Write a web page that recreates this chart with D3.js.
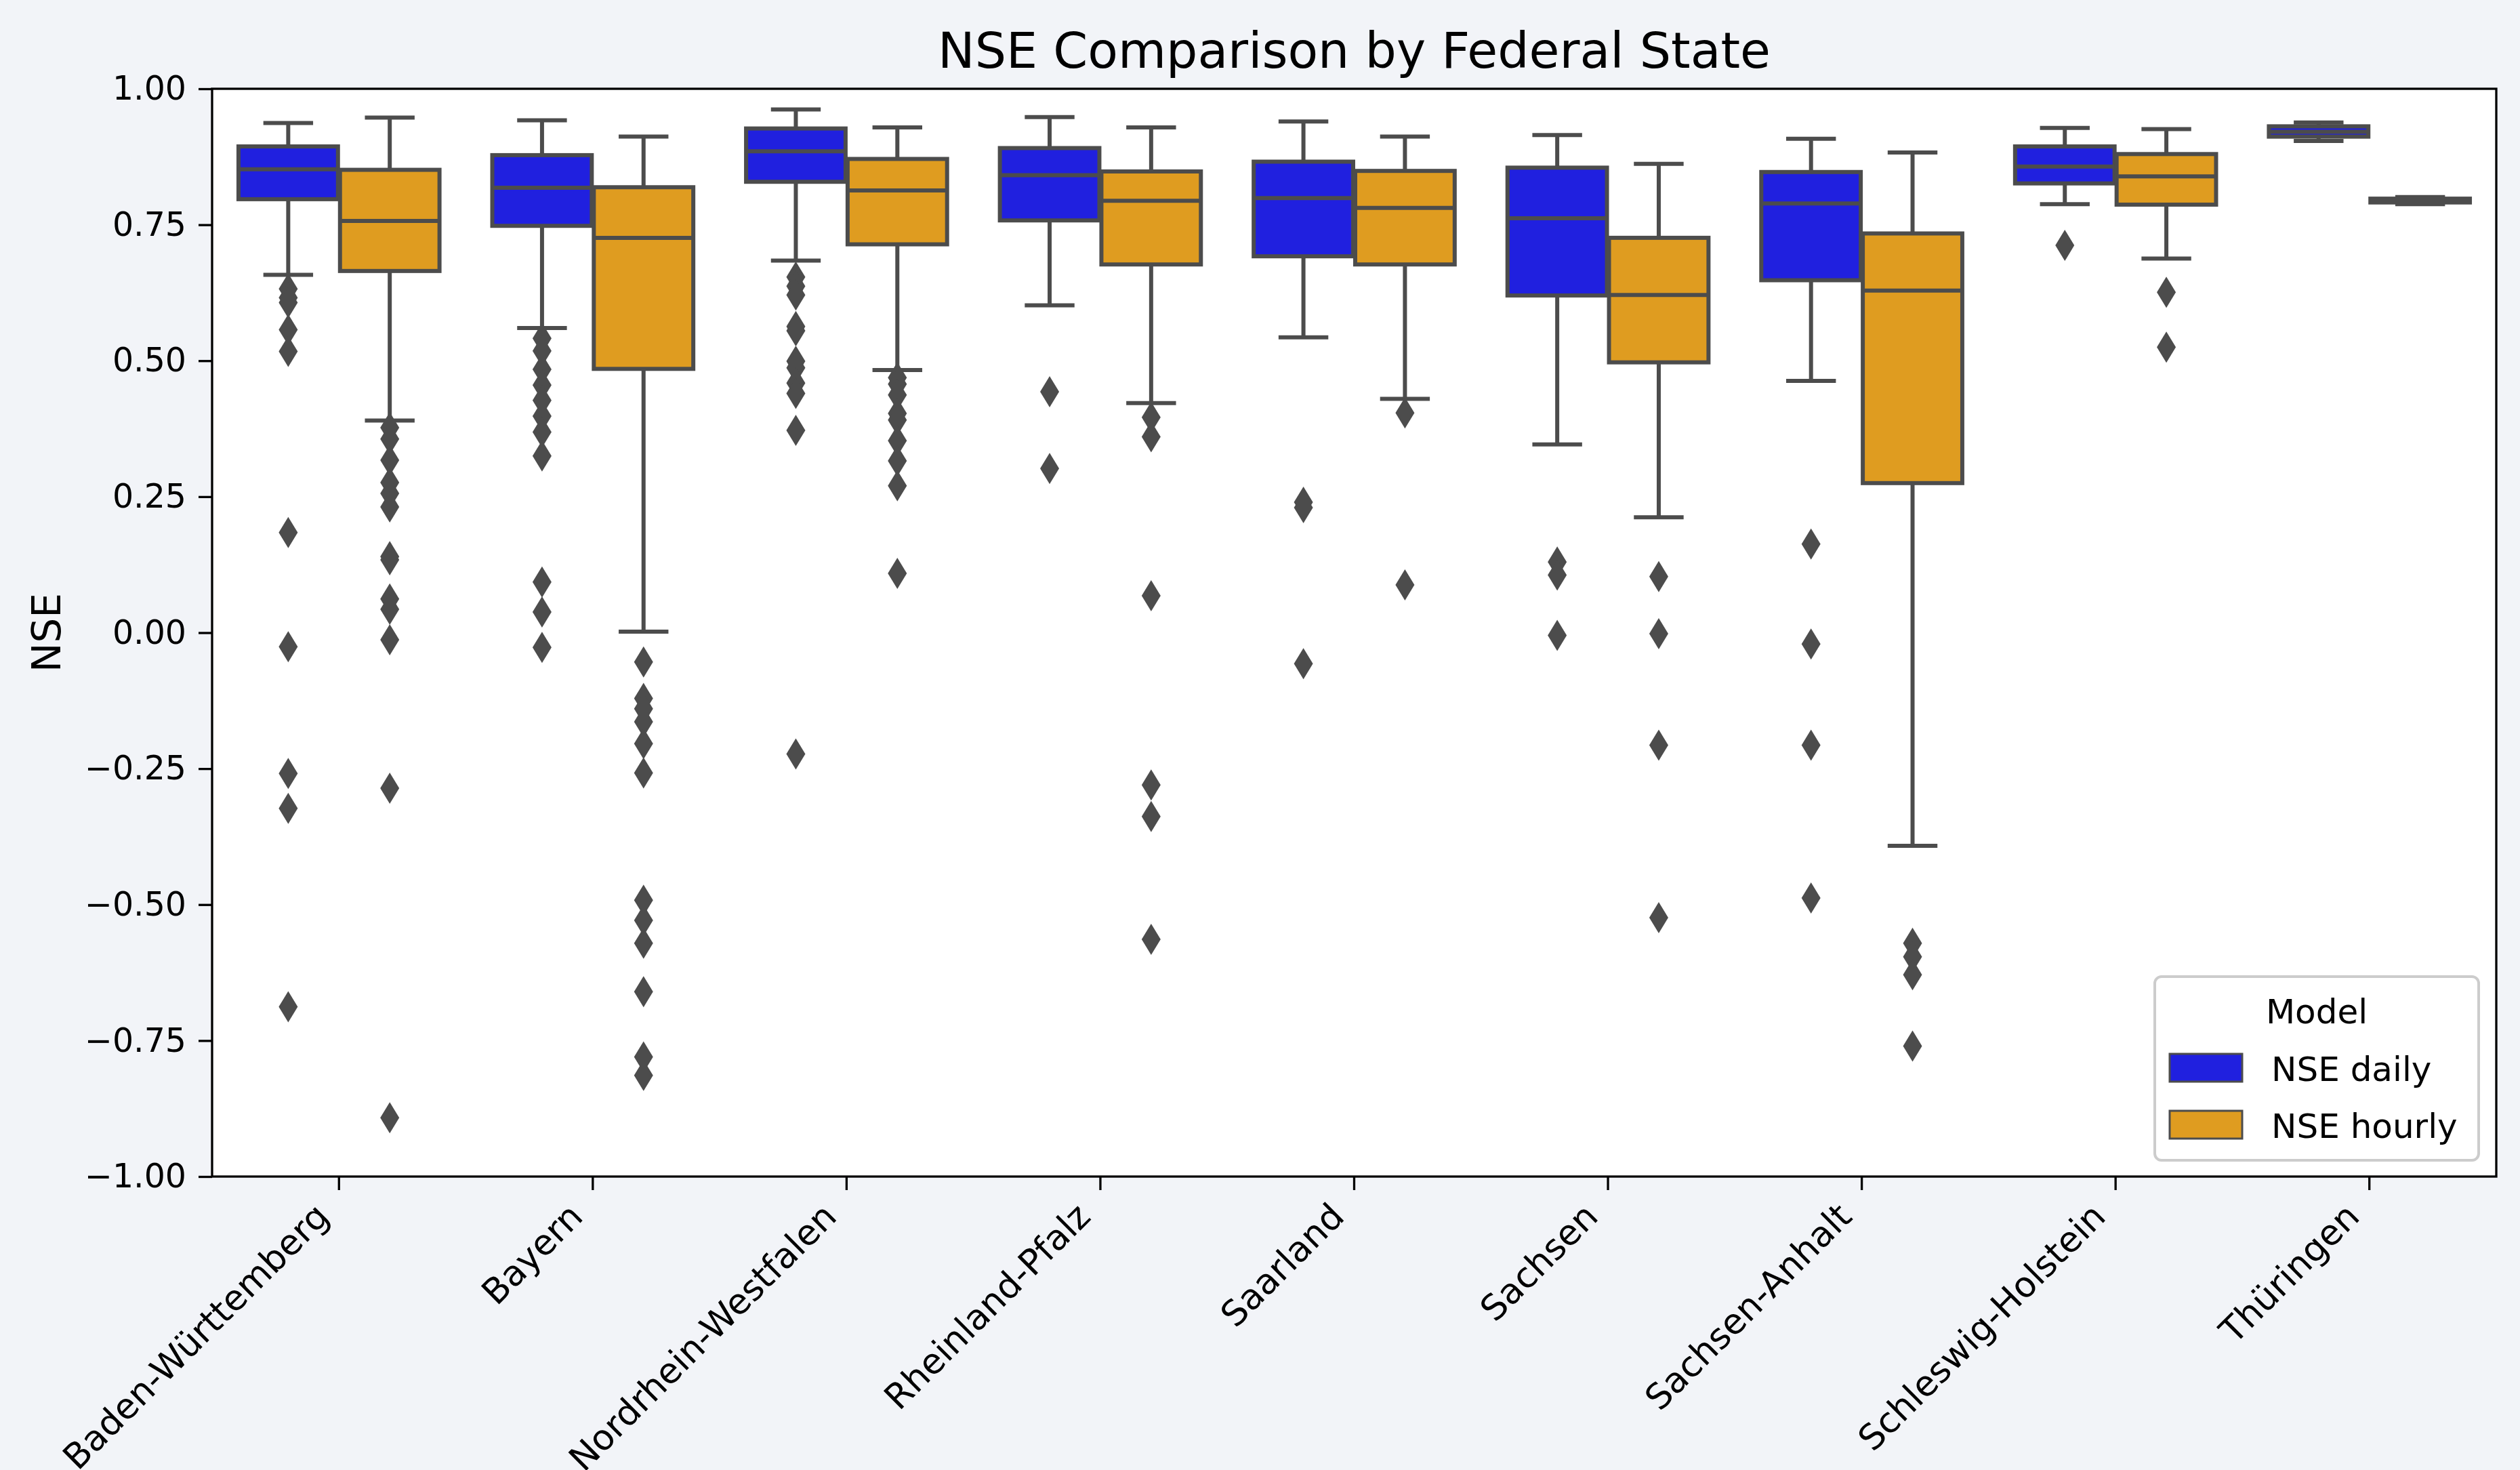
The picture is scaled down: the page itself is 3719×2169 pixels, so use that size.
<!DOCTYPE html>
<html>
<head>
<meta charset="utf-8">
<script src="https://cdn.jsdelivr.net/npm/d3@7"></script>
<style>
  html, body { margin: 0; padding: 0; background: #f2f4f8; }
  svg { display: block; font-family: "DejaVu Sans", sans-serif; }
</style>
</head>
<body>
<div id="chart"></div>
<script>
// NSE boxplots per federal state, daily vs hourly model (seaborn-style dodge)

const states = ["Baden-Württemberg", "Bayern", "Nordrhein-Westfalen", "Rheinland-Pfalz",
  "Saarland", "Sachsen", "Sachsen-Anhalt", "Schleswig-Holstein", "Thüringen"];
const models = ["NSE daily", "NSE hourly"];
const modelColors = ["#2020df", "#df9c20"];

// [lower whisker, Q1, median, Q3, upper whisker] per state
const dailyStats = [
  [0.658, 0.797, 0.852, 0.894, 0.937],
  [0.560, 0.748, 0.818, 0.878, 0.942],
  [0.684, 0.829, 0.885, 0.927, 0.962],
  [0.602, 0.758, 0.841, 0.891, 0.948],
  [0.543, 0.692, 0.799, 0.866, 0.940],
  [0.346, 0.620, 0.762, 0.855, 0.915],
  [0.463, 0.648, 0.789, 0.847, 0.908],
  [0.788, 0.826, 0.857, 0.894, 0.928],
  [0.904, 0.912, 0.921, 0.931, 0.938]
];
const hourlyStats = [
  [0.390, 0.665, 0.757, 0.851, 0.947],
  [0.002, 0.485, 0.726, 0.819, 0.912],
  [0.483, 0.714, 0.813, 0.871, 0.929],
  [0.422, 0.677, 0.794, 0.848, 0.929],
  [0.430, 0.677, 0.781, 0.849, 0.912],
  [0.212, 0.497, 0.621, 0.726, 0.862],
  [-0.392, 0.275, 0.629, 0.734, 0.883],
  [0.688, 0.787, 0.839, 0.880, 0.926],
  [0.788, 0.791, 0.795, 0.798, 0.801]
];
const dailyOutliers = [
  [0.632, 0.616, 0.607, 0.557, 0.517, 0.184, -0.026, -0.259, -0.323, -0.688],
  [0.541, 0.518, 0.484, 0.455, 0.427, 0.398, 0.369, 0.325, 0.093, 0.038, -0.027],
  [0.654, 0.637, 0.621, 0.563, 0.555, 0.499, 0.487, 0.459, 0.440, 0.372, -0.223],
  [0.443, 0.302],
  [0.240, 0.230, -0.057],
  [0.130, 0.106, -0.005],
  [0.163, -0.021, -0.207, -0.488],
  [0.712],
  []
];
const hourlyOutliers = [
  [0.377, 0.356, 0.317, 0.276, 0.256, 0.231, 0.140, 0.134, 0.062, 0.043, -0.013, -0.286, -0.892],
  [-0.054, -0.121, -0.140, -0.164, -0.204, -0.258, -0.492, -0.529, -0.571, -0.660, -0.780, -0.814],
  [0.469, 0.457, 0.437, 0.403, 0.391, 0.353, 0.316, 0.270, 0.109],
  [0.396, 0.360, 0.068, -0.280, -0.338, -0.564],
  [0.404, 0.088],
  [0.103, -0.002, -0.207, -0.524],
  [-0.571, -0.596, -0.629, -0.760],
  [0.626, 0.525],
  []
];
const yTicks = [-1, -0.75, -0.5, -0.25, 0, 0.25, 0.5, 0.75, 1];

const width = 3719, height = 2169;
const margin = { top: 131, right: 35, bottom: 433, left: 313 };
const lineGray = "#4c4c4c";

const svg = d3.select("#chart").append("svg")
  .attr("width", width).attr("height", height);
svg.append("rect").attr("width", width).attr("height", height).attr("fill", "#f2f4f8");

const x = d3.scaleBand().domain(states).range([margin.left, width - margin.right]);
const xSub = d3.scaleBand().domain(models).range([-0.4 * x.bandwidth(), 0.4 * x.bandwidth()]);
const y = d3.scaleLinear().domain([-1, 1]).range([height - margin.bottom, margin.top]);

// plot area
svg.append("rect")
  .attr("x", margin.left).attr("y", margin.top)
  .attr("width", width - margin.left - margin.right)
  .attr("height", height - margin.top - margin.bottom)
  .attr("fill", "#ffffff");

// build one record per box
const boxes = [];
states.forEach((s, i) => {
  [dailyStats, hourlyStats].forEach((stats, m) => {
    const [lo, q1, med, q3, hi] = stats[i];
    boxes.push({ state: s, model: models[m], color: modelColors[m], lo, q1, med, q3, hi,
      outliers: (m === 0 ? dailyOutliers : hourlyOutliers)[i] });
  });
});

const boxW = xSub.bandwidth() * 0.98;
const capW = boxW / 2;
const cxOf = d => x(d.state) + x.bandwidth() / 2 + xSub(d.model) + xSub.bandwidth() / 2;

const gBox = svg.selectAll("g.box").data(boxes).join("g").attr("class", "box")
  .attr("transform", d => `translate(${cxOf(d)},0)`);

// whiskers
gBox.append("line").attr("x1", 0).attr("x2", 0)
  .attr("y1", d => y(d.q1)).attr("y2", d => y(d.lo))
  .attr("stroke", lineGray).attr("stroke-width", 6);
gBox.append("line").attr("x1", 0).attr("x2", 0)
  .attr("y1", d => y(d.q3)).attr("y2", d => y(d.hi))
  .attr("stroke", lineGray).attr("stroke-width", 6);
// caps
["lo", "hi"].forEach(k => {
  gBox.append("line").attr("x1", -capW / 2).attr("x2", capW / 2)
    .attr("y1", d => y(d[k])).attr("y2", d => y(d[k]))
    .attr("stroke", lineGray).attr("stroke-width", 6);
});
// box
gBox.append("rect")
  .attr("x", -boxW / 2).attr("width", boxW)
  .attr("y", d => y(d.q3)).attr("height", d => Math.max(0, y(d.q1) - y(d.q3)))
  .attr("fill", d => d.color)
  .attr("stroke", lineGray).attr("stroke-width", 6);
// median
gBox.append("line").attr("x1", -boxW / 2).attr("x2", boxW / 2)
  .attr("y1", d => y(d.med)).attr("y2", d => y(d.med))
  .attr("stroke", lineGray).attr("stroke-width", 6);
// fliers: thin diamonds
gBox.selectAll("path.flier").data(d => d.outliers).join("path")
  .attr("class", "flier")
  .attr("transform", v => `translate(0,${y(v)})`)
  .attr("d", "M0,-23L14,0L0,23L-14,0Z")
  .attr("fill", lineGray);

// frame
svg.append("rect")
  .attr("x", margin.left).attr("y", margin.top)
  .attr("width", width - margin.left - margin.right)
  .attr("height", height - margin.top - margin.bottom)
  .attr("fill", "none").attr("stroke", "#000").attr("stroke-width", 3.3);

// y axis
const gY = svg.append("g").attr("transform", `translate(${margin.left},0)`)
  .call(d3.axisLeft(y).tickValues(yTicks).tickFormat(d3.format(".2f"))
    .tickSizeInner(20).tickSizeOuter(0).tickPadding(18));
gY.select(".domain").remove();
gY.selectAll(".tick line").attr("stroke", "#000").attr("stroke-width", 3.3);
gY.selectAll(".tick text").attr("font-size", 49).attr("fill", "#000")
  .attr("font-family", "DejaVu Sans");

// x axis
const gX = svg.append("g").attr("transform", `translate(0,${height - margin.bottom})`)
  .call(d3.axisBottom(x).tickSizeInner(20).tickSizeOuter(0));
gX.select(".domain").remove();
gX.selectAll(".tick line").attr("stroke", "#000").attr("stroke-width", 3.3);
gX.selectAll(".tick text")
  .attr("y", 0).attr("dy", null)
  .attr("text-anchor", "end")
  .attr("transform", "translate(-12,62) rotate(-45)")
  .attr("font-size", 52).attr("fill", "#000")
  .attr("font-family", "DejaVu Sans");

// title and y label
svg.append("text")
  .attr("x", (margin.left + width - margin.right) / 2).attr("y", 100)
  .attr("text-anchor", "middle").attr("font-size", 73).attr("fill", "#000")
  .text("NSE Comparison by Federal State");
svg.append("text")
  .attr("transform", `translate(89,${(margin.top + height - margin.bottom) / 2}) rotate(-90)`)
  .attr("text-anchor", "middle").attr("font-size", 58).attr("fill", "#000")
  .text("NSE");

// legend
const gLegend = svg.append("g").attr("transform", "translate(3180,1441)");
gLegend.append("rect").attr("width", 478).attr("height", 271).attr("rx", 10)
  .attr("fill", "#ffffff").attr("fill-opacity", 0.8)
  .attr("stroke", "#cccccc").attr("stroke-width", 4);
gLegend.append("text").attr("x", 239).attr("y", 69).attr("text-anchor", "middle")
  .attr("font-size", 50).attr("fill", "#000").text("Model");
const items = gLegend.selectAll("g.item").data(models).join("g").attr("class", "item")
  .attr("transform", (d, i) => `translate(0,${114 + i * 84})`);
items.append("rect").attr("x", 22).attr("width", 107).attr("height", 41)
  .attr("fill", (d, i) => modelColors[i]).attr("stroke", lineGray).attr("stroke-width", 3);
items.append("text").attr("x", 172).attr("y", 40)
  .attr("font-size", 50).attr("fill", "#000").text(d => d);
</script>
</body>
</html>
